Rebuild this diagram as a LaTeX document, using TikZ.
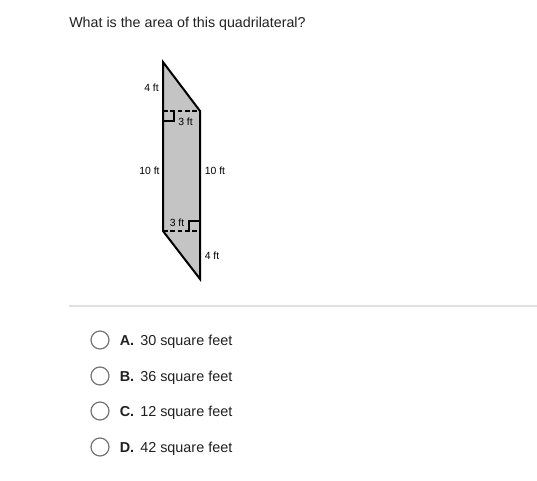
\documentclass[tikz,border=0pt]{standalone}
\usepackage{fontspec}
\setmainfont{Liberation Sans}
\usepackage{xcolor}
\usepackage{tikz}
\usetikzlibrary{positioning}

\definecolor{textdark}{HTML}{202124}
\definecolor{shapegray}{HTML}{C4C4C4}
\definecolor{rulegray}{HTML}{E0E0E0}
\definecolor{radiogray}{HTML}{757575}

\tikzset{
  dimlabel/.style={font=\fontsize{7.8}{9}\selectfont, text=black, inner sep=0pt},
  answer/.style={font=\fontsize{10.8}{13}\selectfont, text=textdark, anchor=base west, inner sep=0pt},
  letter/.style={font=\fontsize{10.8}{13}\selectfont\bfseries, text=textdark, anchor=base west, inner sep=0pt},
  radio/.style={circle, draw=radiogray, line width=0.9pt, minimum size=13.5pt, inner sep=0pt}
}

\begin{document}
\begin{tikzpicture}[x=0.75pt, y=-0.75pt]
        \useasboundingbox (0,0) rectangle (537,480);
        \fill[white] (0,0) rectangle (537,480);

        % Question
        \node[anchor=west, inner sep=0pt, text=textdark, font=\fontsize{10.7}{13}\selectfont] (question) at (69,24) {What is the area of this quadrilateral?};

        % Parallelogram
        \coordinate (tl) at (163,62);
        \coordinate (tr) at (200,111);
        \coordinate (br) at (200,279);
        \coordinate (bl) at (163,231);
        \filldraw[fill=shapegray, draw=black, line width=1.5pt, line join=miter] (tl) -- (tr) -- (br) -- (bl) -- cycle;

        % Heights
        \draw[dash pattern=on 3.5pt off 2pt, line width=1pt] (163,111) -- (tr);
        \draw[dash pattern=on 3.5pt off 2pt, line width=1pt] (bl) -- (200,231);
        \draw[line width=0.8pt] (163,121) -- (174,121) -- (174,111);
        \draw[line width=0.8pt] (189,231) -- (189,221) -- (200,221);

        % Labels
        \node[dimlabel] (topside) at (151.5,88) {4 ft};
        \node[dimlabel] (leftside) at (149.5,171) {10 ft};
        \node[dimlabel] (rightside) at (215,171) {10 ft};
        \node[dimlabel] (botside) at (212,256) {4 ft};
        \node[dimlabel] (tophgt) at (185.5,122) {3 ft};
        \node[dimlabel] (bothgt) at (177,222.5) {3 ft};

        % Separator
        \draw[rulegray, line width=0.8pt] (69,306) -- (537,306);

        % Choices
        \foreach \y/\l/\t [count=\i] in {340/A./30, 376/B./36, 411/C./12, 447/D./42} {
          \node[radio] (radio\i) at (100,\y) {};
          \node[letter] (letter\i) at (119.5,\y+5) {\l};
          \node[answer] (answer\i) at (140,\y+5) {\t\ square feet};
        }
\end{tikzpicture}
\end{document}
